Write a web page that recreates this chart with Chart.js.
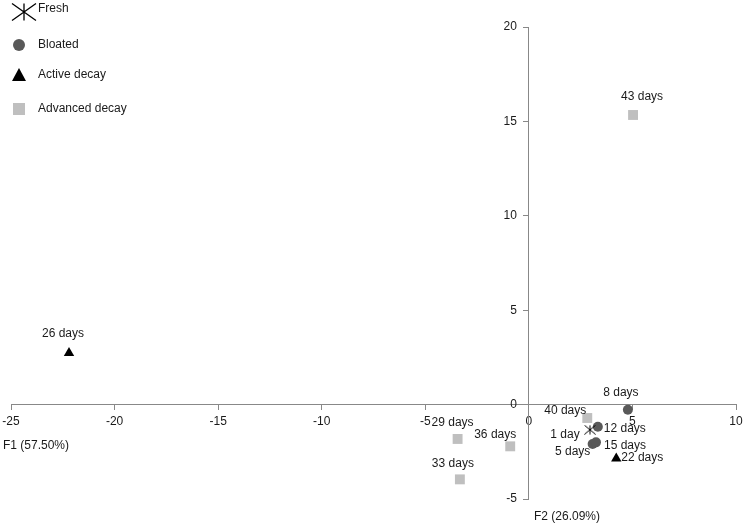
<!DOCTYPE html>
<html>
<head>
<meta charset="utf-8">
<script src="https://cdn.jsdelivr.net/npm/chart.js@4/dist/chart.umd.min.js"></script>
<style>
  html, body { margin: 0; padding: 0; background: #fff; }
  #wrap { width: 744px; height: 528px; }
</style>
</head>
<body>
<div id="wrap"><canvas id="pcaChart" width="744" height="528"></canvas></div>
<script>
// sample scores on F1 / F2
const freshX = [2.95];
const freshY = [-1.33];
const freshLabels = ['1 day'];

const bloatedX = [4.78, 3.33, 3.08, 3.24];
const bloatedY = [-0.27, -1.17, -2.09, -2.0];
const bloatedLabels = ['8 days', '12 days', '5 days', '15 days'];

const activeX = [-22.2, 4.22];
const activeY = [2.73, -2.85];
const activeLabels = ['26 days', '22 days'];

const advancedX = [5.03, 2.82, -3.44, -0.9, -3.33];
const advancedY = [15.34, -0.71, -1.82, -2.21, -3.96];
const advancedLabels = ['43 days', '40 days', '29 days', '36 days', '33 days'];

const xTicks = [-25, -20, -15, -10, -5, 0, 5, 10];
const yTicks = [-5, 0, 5, 10, 15, 20];

const FONT = '"Liberation Sans", Arial, sans-serif';

// where each point label sits relative to its marker (px)
const labelOffsets = {
  '1 day': [-25, 5], '8 days': [-7, -17], '12 days': [27, 2], '5 days': [-20, 8],
  '15 days': [29, 3], '26 days': [-6, -19], '22 days': [26, -1], '43 days': [9, -18],
  '40 days': [-22, -7], '29 days': [-5, -16], '36 days': [-15, -12], '33 days': [-7, -16]
};

function toPoints(xs, ys, labels) {
  return xs.map((x, i) => ({ x: x, y: ys[i], label: labels[i] }));
}

function asteriskPath(ctx, cx, cy, w, h) {
  ctx.beginPath();
  ctx.moveTo(cx - w / 2, cy - h / 2); ctx.lineTo(cx + w / 2, cy + h / 2);
  ctx.moveTo(cx + w / 2, cy - h / 2); ctx.lineTo(cx - w / 2, cy + h / 2);
  ctx.moveTo(cx, cy - h / 2); ctx.lineTo(cx, cy + h / 2);
  ctx.stroke();
}

// small asterisk image used as the point style for "Fresh"
const starImg = document.createElement('canvas');
starImg.width = 12; starImg.height = 10;
(function () {
  const c = starImg.getContext('2d');
  c.strokeStyle = '#000';
  c.lineWidth = 1;
  asteriskPath(c, 6, 5, 11, 9);
})();

const legendItems = [
  { text: 'Fresh', shape: 'star', y: 11 },
  { text: 'Bloated', shape: 'circle', color: '#595959', y: 45 },
  { text: 'Active decay', shape: 'triangle', color: '#000000', y: 75 },
  { text: 'Advanced decay', shape: 'square', color: '#bfbfbf', y: 109 }
];

const legendPlugin = {
  id: 'cornerLegend',
  afterDraw(chart) {
    const ctx = chart.ctx;
    ctx.save();
    legendItems.forEach(it => {
      const cx = 19, cy = it.y;
      ctx.fillStyle = it.color || '#000';
      if (it.shape === 'star') {
        ctx.strokeStyle = '#000';
        ctx.lineWidth = 1.3;
        asteriskPath(ctx, 24, cy + 1, 24, 17);
      } else if (it.shape === 'circle') {
        ctx.beginPath(); ctx.arc(cx, cy, 6, 0, Math.PI * 2); ctx.fill();
      } else if (it.shape === 'triangle') {
        ctx.beginPath();
        ctx.moveTo(cx, cy - 7); ctx.lineTo(cx + 7, cy + 6); ctx.lineTo(cx - 7, cy + 6);
        ctx.closePath(); ctx.fill();
      } else {
        ctx.fillRect(cx - 6, cy - 6, 12, 12);
      }
      ctx.fillStyle = '#1a1a1a';
      ctx.font = '12px ' + FONT;
      ctx.textAlign = 'left';
      ctx.textBaseline = 'middle';
      ctx.fillText(it.text, 38, it.shape === 'star' ? cy - 2 : cy);
    });
    ctx.restore();
  }
};

const pointLabelPlugin = {
  id: 'pointLabels',
  afterDatasetsDraw(chart) {
    const ctx = chart.ctx;
    ctx.save();
    ctx.font = '12px ' + FONT;
    ctx.fillStyle = '#1a1a1a';
    ctx.textAlign = 'center';
    ctx.textBaseline = 'middle';
    chart.data.datasets.forEach((ds, di) => {
      chart.getDatasetMeta(di).data.forEach((el, i) => {
        const lab = ds.data[i].label;
        const off = labelOffsets[lab] || [0, -15];
        ctx.fillText(lab, el.x + off[0], el.y + off[1]);
      });
    });
    ctx.restore();
  }
};

// y tick labels sit left of the crossing axis; axis titles are free text
const axisTextPlugin = {
  id: 'axisText',
  afterDraw(chart) {
    const ctx = chart.ctx;
    const xs = chart.scales.x, ys = chart.scales.y;
    const axisX = xs.getPixelForValue(0);
    ctx.save();
    ctx.font = '12px ' + FONT;
    ctx.fillStyle = '#1a1a1a';
    ctx.textAlign = 'right';
    ctx.textBaseline = 'middle';
    yTicks.forEach(v => ctx.fillText(String(v), axisX - 12, ys.getPixelForValue(v)));
    ctx.textAlign = 'left';
    ctx.fillText('F1 (57.50%)', 3, 446);
    ctx.fillText('F2 (26.09%)', 534, 517);
    ctx.restore();
  }
};

const data = {
  datasets: [
    {
      label: 'Fresh',
      data: toPoints(freshX, freshY, freshLabels),
      pointStyle: starImg,
      backgroundColor: '#000',
      borderColor: '#000'
    },
    {
      label: 'Bloated',
      data: toPoints(bloatedX, bloatedY, bloatedLabels),
      pointStyle: 'circle',
      pointRadius: 5,
      backgroundColor: '#595959',
      borderColor: '#595959'
    },
    {
      label: 'Active decay',
      data: toPoints(activeX, activeY, activeLabels),
      pointStyle: 'triangle',
      pointRadius: 6,
      backgroundColor: '#000000',
      borderColor: '#000000'
    },
    {
      label: 'Advanced decay',
      data: toPoints(advancedX, advancedY, advancedLabels),
      pointStyle: 'rect',
      pointRadius: 7,
      backgroundColor: '#bfbfbf',
      borderColor: '#bfbfbf'
    }
  ]
};

const tickFont = { family: FONT, size: 12 };

const config = {
  type: 'scatter',
  data: data,
  options: {
    responsive: false,
    animation: false,
    devicePixelRatio: 1,
    layout: { padding: { left: 11, right: 8, top: 27, bottom: 29 } },
    elements: { point: { borderWidth: 0, hoverRadius: 6 } },
    scales: {
      x: {
        type: 'linear',
        position: { y: 0 },
        min: -25, max: 10,
        afterFit(s) { s.height = 0; s.paddingLeft = 0; s.paddingRight = 0; },
        afterBuildTicks(s) { s.ticks = xTicks.map(v => ({ value: v })); },
        ticks: { font: tickFont, color: '#1a1a1a', padding: 5, maxRotation: 0, autoSkip: false },
        grid: { drawOnChartArea: false, drawTicks: true, tickLength: 5, color: '#888' },
        border: { display: true, color: '#888', width: 1 }
      },
      y: {
        type: 'linear',
        position: { x: 0 },
        min: -5, max: 20,
        afterFit(s) { s.width = 0; s.paddingTop = 0; s.paddingBottom = 0; },
        afterBuildTicks(s) { s.ticks = yTicks.map(v => ({ value: v })); },
        ticks: { display: false, font: tickFont, autoSkip: false },
        grid: { drawOnChartArea: false, drawTicks: true, tickLength: 5, color: '#888' },
        border: { display: true, color: '#888', width: 1 }
      }
    },
    plugins: {
      legend: { display: false },
      tooltip: { enabled: false }
    }
  },
  plugins: [legendPlugin, pointLabelPlugin, axisTextPlugin]
};

const chart = new Chart(document.getElementById('pcaChart').getContext('2d'), config);
</script>
</body>
</html>
